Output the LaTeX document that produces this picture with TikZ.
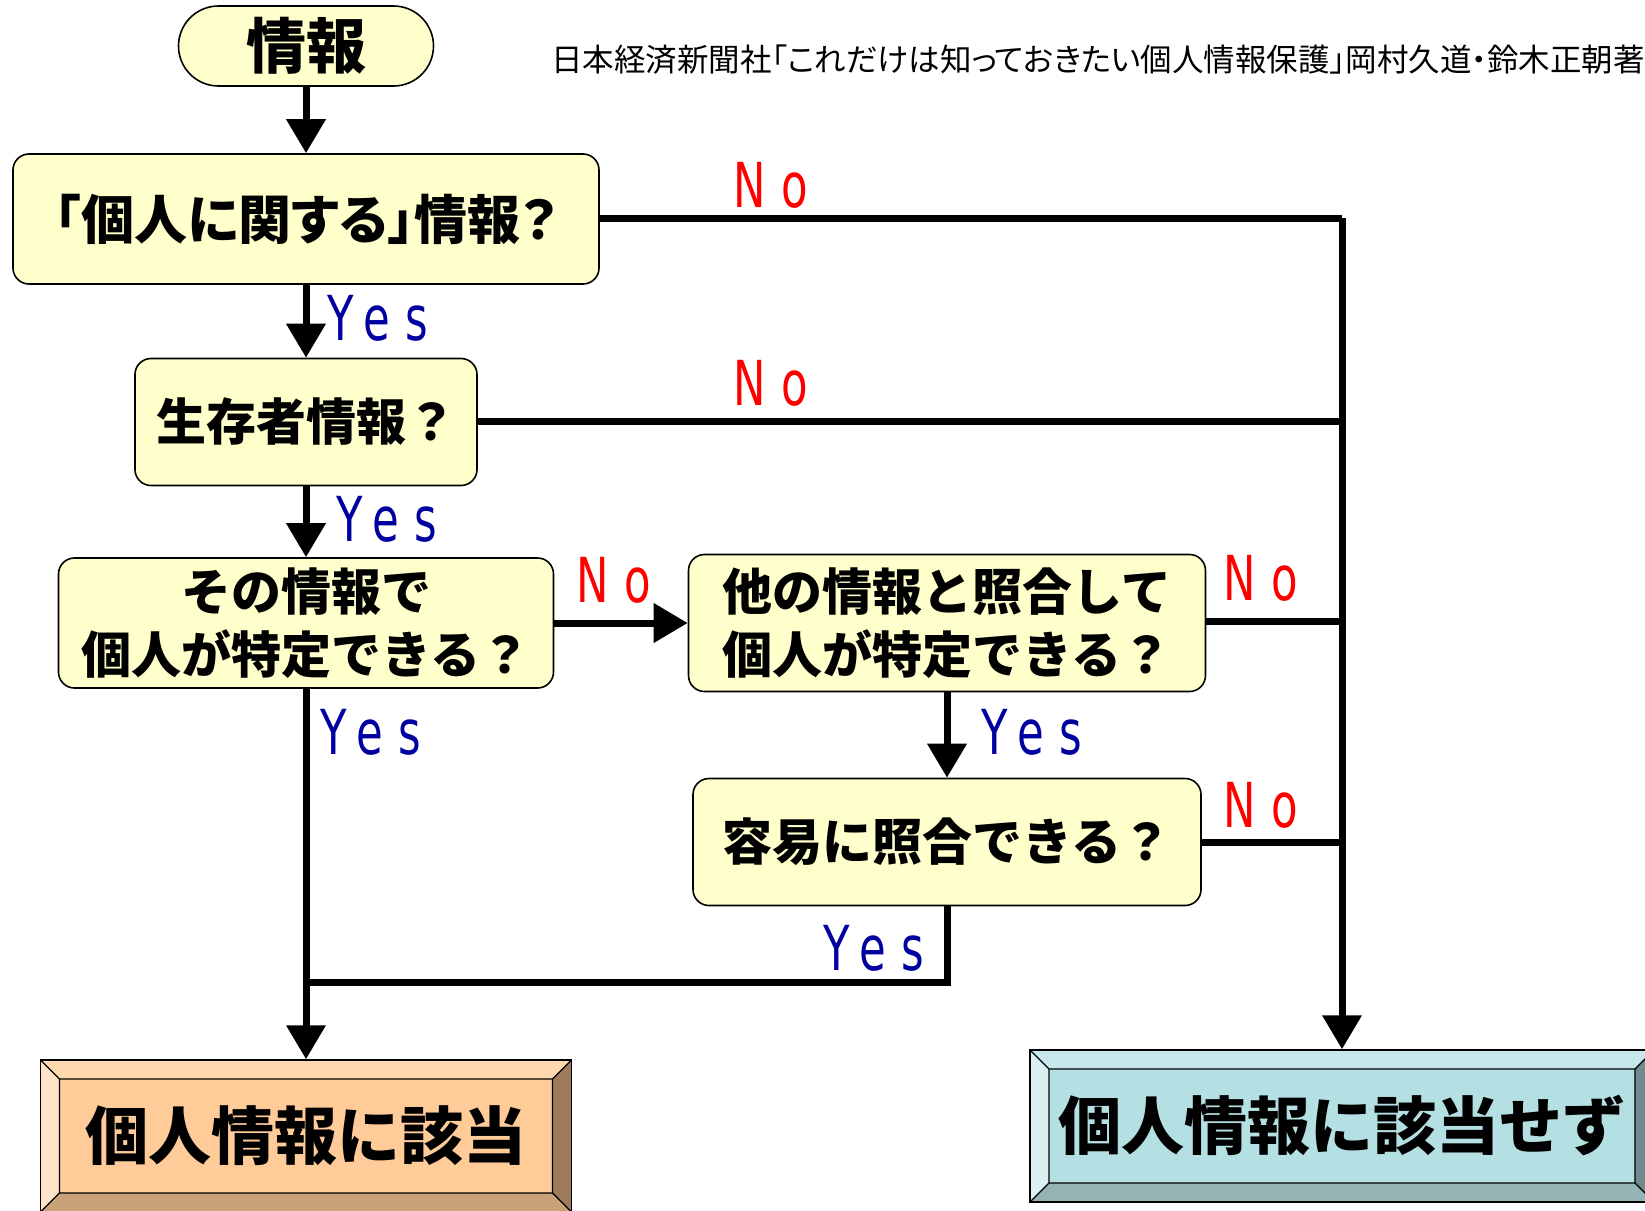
\documentclass[tikz,border=0pt]{standalone}
\usepackage{fontspec}
\usetikzlibrary{arrows.meta}
\newfontfamily\jpfont{Noto Sans CJK JP}
\newfontfamily\jppfont[RawFeature=+palt]{Noto Sans CJK JP}
\newfontfamily\ynfont[FakeStretch=0.7,LetterSpace=25]{DejaVu Sans}
\definecolor{qfill}{HTML}{FFFFCC}
\definecolor{yesblue}{HTML}{0000A0}
\definecolor{goC}{HTML}{FFCC99}
\definecolor{goT}{HTML}{FFD9AE}
\definecolor{goL}{HTML}{FFE3C8}
\definecolor{goB}{HTML}{C9A27A}
\definecolor{goR}{HTML}{9E7B5C}
\definecolor{noC}{HTML}{B4E0E3}
\definecolor{noT}{HTML}{C6E8EB}
\definecolor{noL}{HTML}{D9EFF1}
\definecolor{noB}{HTML}{93B3B5}
\definecolor{noR}{HTML}{6F8B8D}
\tikzset{
  qbox/.style={draw, line width=1.6pt, fill=qfill, rounded corners=16pt,
    inner sep=0pt, align=center, font=\jpfont\bfseries\fontsize{50}{63}\selectfont},
  pill/.style={draw, line width=1.6pt, fill=qfill, rounded corners=40pt,
    minimum width=255pt, minimum height=80pt, inner sep=0pt,
    font=\jpfont\bfseries\fontsize{60}{60}\selectfont},
  flow/.style={line width=7pt},
  flowarr/.style={line width=7pt, -{Triangle[length=34pt,width=38pt]}},
  yeslbl/.style={text=yesblue, inner sep=0pt, font=\ynfont\fontsize{62}{62}\selectfont},
  nolbl/.style={text=red, inner sep=0pt, font=\ynfont\fontsize{62}{62}\selectfont},
  bevel/.style n args={5}{draw=black, line width=1.5pt, fill=#1, inner sep=0pt,
    font=\jpfont\bfseries\fontsize{63}{63}\selectfont,
    path picture={
      \coordinate (pnw) at (path picture bounding box.north west);
      \coordinate (pse) at (path picture bounding box.south east);
      \coordinate (pne) at (pse |- pnw);
      \coordinate (psw) at (pnw |- pse);
      \coordinate (qnw) at ([shift={(19pt,-19pt)}]pnw);
      \coordinate (qne) at ([shift={(-19pt,-19pt)}]pne);
      \coordinate (qse) at ([shift={(-19pt,19pt)}]pse);
      \coordinate (qsw) at ([shift={(19pt,19pt)}]psw);
      \fill[#2] (pnw) -- (pne) -- (qne) -- (qnw) -- cycle;
      \fill[#3] (pnw) -- (psw) -- (qsw) -- (qnw) -- cycle;
      \fill[#4] (psw) -- (pse) -- (qse) -- (qsw) -- cycle;
      \fill[#5] (pne) -- (pse) -- (qse) -- (qne) -- cycle;
      \draw[line width=1.2pt] (qnw) rectangle (qse)
        (pnw) -- (qnw) (pne) -- (qne) (pse) -- (qse) (psw) -- (qsw);
    }}
}
\begin{document}
\begin{tikzpicture}[x=1pt, y=-1pt]
  \useasboundingbox (0,0) rectangle (1645,1210);

  \node[pill] (info) at (306,46) {情報};
  \node[anchor=east, inner sep=0pt, font=\jppfont\fontsize{31.5}{31.5}\selectfont] (src)
    at (1645,60) {日本経済新聞社「これだけは知っておきたい個人情報保護」岡村久道・鈴木正朝著};

  \node[qbox, minimum width=586pt, minimum height=130pt,
    font=\jppfont\bfseries\fontsize{53}{53}\selectfont] (q1) at (306,219) {「個人に関する」情報？};
  \node[qbox, minimum width=342pt, minimum height=127pt] (q2) at (306,422) {生存者情報？};
  \node[qbox, minimum width=495pt, minimum height=130pt] (q3) at (306,623) {その情報で\\個人が特定できる？};
  \node[qbox, minimum width=517pt, minimum height=137pt] (q4) at (947,623) {他の情報と照合して\\個人が特定できる？};
  \node[qbox, minimum width=508pt, minimum height=127pt] (q5) at (947,842) {容易に照合できる？};

  \node[bevel={goC}{goT}{goL}{goB}{goR}, minimum width=531pt, minimum height=152pt] (go) at (306,1136) {個人情報に該当};
  \node[bevel={noC}{noT}{noL}{noB}{noR}, minimum width=624pt, minimum height=152pt] (nogo) at (1342,1126) {個人情報に該当せず};

  \coordinate (c1) at (1342,218);
  \coordinate (j) at (306,982);

  % main flow
  \draw[flowarr] (info) -- (q1);
  \draw[flowarr] (q1) -- (q2);
  \draw[flowarr] (q2) -- (q3);
  \draw[flowarr] (q3) -- (q4);
  \draw[flowarr] (q4) -- (q5);
  \draw[flowarr] (q3) -- (go);
  \draw[flow] (q5.south) |- (j);

  % No side
  \draw[flow] (q1.east |- c1) -- (c1);
  \draw[flowarr] (c1) -- (nogo);
  \draw[flow] (q2.east |- 0,421) -- (c1 |- 0,421);
  \draw[flow] (q4.east |- 0,621) -- (c1 |- 0,621);
  \draw[flow] (q5.east |- 0,842) -- (c1 |- 0,842);

  \node[nolbl] (n1) at (771,185) {No};
  \node[nolbl] (n2) at (771,383) {No};
  \node[nolbl] (n3) at (614,580) {No};
  \node[nolbl] (n4) at (1261,578) {No};
  \node[nolbl] (n5) at (1261,805) {No};

  \node[yeslbl] (y1) at (378,318) {Yes};
  \node[yeslbl] (y2) at (387,519) {Yes};
  \node[yeslbl] (y3) at (371,732) {Yes};
  \node[yeslbl] (y4) at (1032,732) {Yes};
  \node[yeslbl] (y5) at (874,948) {Yes};
\end{tikzpicture}
\end{document}
